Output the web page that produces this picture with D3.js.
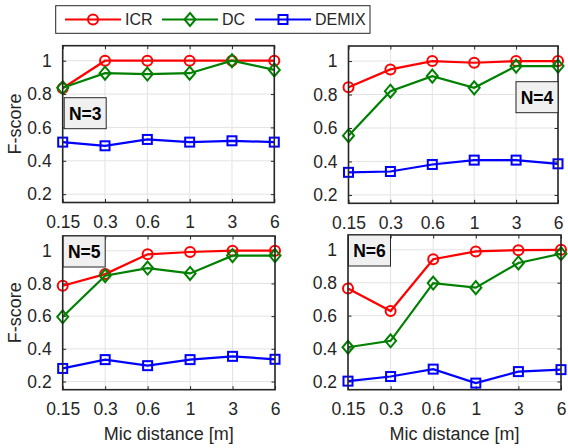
<!DOCTYPE html>
<html>
<head>
<meta charset="utf-8">
<script src="https://cdn.jsdelivr.net/npm/d3@7"></script>
<style>
  body { margin: 0; background: #fff; }
  text { font-family: "Liberation Sans", Arial, sans-serif; fill: #262626; }
</style>
</head>
<body>
<div id="svg"></div>
<script>

// data
var dist_labels = ["0.15", "0.3", "0.6", "1", "3", "6"];
var panel_names = ["N=3", "N=4", "N=5", "N=6"];
var series_names = ["ICR", "DC", "DEMIX"];
var y_ticks = [0.2, 0.4, 0.6, 0.8, 1];

var icr = [
    [0.835, 1.0, 1.0, 1.0, 1.0, 1.0],
    [0.844, 0.95, 1.0, 0.99, 1.0, 1.0],
    [0.786, 0.857, 0.978, 0.992, 1.0, 1.0],
    [0.765, 0.628, 0.943, 0.99, 0.998, 1.0]
];
var dc = [
    [0.838, 0.925, 0.92, 0.925, 1.0, 0.945],
    [0.554, 0.82, 0.91, 0.84, 0.97, 0.97],
    [0.596, 0.847, 0.894, 0.861, 0.97, 0.97],
    [0.408, 0.447, 0.798, 0.77, 0.92, 0.976]
];
var demix = [
    [0.512, 0.49, 0.528, 0.512, 0.52, 0.512],
    [0.335, 0.34, 0.382, 0.408, 0.408, 0.386],
    [0.28, 0.334, 0.297, 0.334, 0.354, 0.336],
    [0.202, 0.23, 0.275, 0.19, 0.26, 0.272]
];

// layout
var width = 568, height = 448;
var colors = ["#ff0000", "#008000", "#0000ff"];
var marker_kind = ["circle", "diamond", "square"];
var y_dom = [0.15, 1.09];

var boxes = [
    {x0: 62.7, x1: 274.3, y0: 45.7, y1: 202.5, lab: "left-mid", ylab: true,  xlab: false},
    {x0: 348.5, x1: 558, y0: 46, y1: 203.3, lab: "right-mid", ylab: false, xlab: false},
    {x0: 62.7, x1: 275, y0: 236, y1: 389.7, lab: "top-left", ylab: true,  xlab: true},
    {x0: 348, x1: 561, y0: 235, y1: 389.7, lab: "top-left", ylab: false, xlab: true}
];

var svg_cont = d3.select("#svg").append("svg")
    .attr("width", width)
    .attr("height", height);

for (var p = 0; p < 4; p++) {
    draw_panel(p);
}
draw_legend();


function marker(g, kind, x, y, col) {
    if (kind == "circle") {
	g.append("circle")
	    .attr("cx", x).attr("cy", y).attr("r", 5)
	    .attr("fill", "none").attr("stroke", col).attr("stroke-width", 2);
    } else if (kind == "diamond") {
	g.append("path")
	    .attr("d", "M" + x + "," + (y - 6.5) + "L" + (x + 5.5) + "," + y
		  + "L" + x + "," + (y + 6.5) + "L" + (x - 5.5) + "," + y + "Z")
	    .attr("fill", "none").attr("stroke", col).attr("stroke-width", 2);
    } else {
	g.append("rect")
	    .attr("x", x - 4.5).attr("y", y - 4.5)
	    .attr("width", 9).attr("height", 9)
	    .attr("fill", "none").attr("stroke", col).attr("stroke-width", 2);
    }
}


function draw_panel(p) {
    var b = boxes[p];
    var xs = d3.scalePoint().domain(dist_labels).range([b.x0, b.x1]).padding(0);
    var ys = d3.scaleLinear().domain(y_dom).range([b.y1, b.y0]);
    var g = svg_cont.append("g").attr("id", "panel" + p);

    // grid
    g.append("g").selectAll("line.gx").data(dist_labels).enter()
	.append("line")
	.attr("x1", function(d) { return xs(d); })
	.attr("x2", function(d) { return xs(d); })
	.attr("y1", b.y0).attr("y2", b.y1)
	.attr("stroke", "#e3e3e3").attr("stroke-width", 1);
    g.append("g").selectAll("line.gy").data(y_ticks).enter()
	.append("line")
	.attr("x1", b.x0).attr("x2", b.x1)
	.attr("y1", function(d) { return ys(d); })
	.attr("y2", function(d) { return ys(d); })
	.attr("stroke", "#e3e3e3").attr("stroke-width", 1);

    // axes with inner ticks, all four sides
    var ax_b = g.append("g").attr("transform", "translate(0," + b.y1 + ")")
	.call(d3.axisBottom(xs).tickSize(-3.5).tickPadding(13));
    var ax_t = g.append("g").attr("transform", "translate(0," + b.y0 + ")")
	.call(d3.axisTop(xs).tickSize(-3.5).tickFormat(""));
    var ax_l = g.append("g").attr("transform", "translate(" + b.x0 + ",0)")
	.call(d3.axisLeft(ys).tickValues(y_ticks).tickSize(-3.5).tickPadding(11)
	      .tickFormat(d3.format("~g")));
    var ax_r = g.append("g").attr("transform", "translate(" + b.x1 + ",0)")
	.call(d3.axisRight(ys).tickValues(y_ticks).tickSize(-3.5).tickFormat(""));

    [ax_b, ax_t, ax_l, ax_r].forEach(function(a) {
	a.select(".domain").remove();
	a.selectAll(".tick line").attr("stroke", "#262626").attr("stroke-width", 1);
	a.selectAll(".tick text")
	    .attr("font-family", "Liberation Sans, Arial, sans-serif")
	    .attr("font-size", "17.5px").attr("fill", "#262626");
    });
    ax_b.selectAll(".tick text").attr("dy", "0.71em");

    // series
    var all = [icr[p], dc[p], demix[p]];
    var line = d3.line()
	.x(function(d, i) { return xs(dist_labels[i]); })
	.y(function(d) { return ys(d); });
    for (var s = 0; s < 3; s++) {
	g.append("path")
	    .attr("d", line(all[s]))
	    .attr("fill", "none")
	    .attr("stroke", colors[s])
	    .attr("stroke-width", 2.2);
	for (var i = 0; i < all[s].length; i++) {
	    marker(g, marker_kind[s], xs(dist_labels[i]), ys(all[s][i]), colors[s]);
	}
    }

    // box
    g.append("rect")
	.attr("x", b.x0).attr("y", b.y0)
	.attr("width", b.x1 - b.x0).attr("height", b.y1 - b.y0)
	.attr("fill", "none").attr("stroke", "#262626").attr("stroke-width", 1.6);

    // N= label
    var bw = 42, bh = 31, lx, ly;
    if (b.lab == "left-mid") { lx = b.x0 + 1.5; ly = 97.7; }
    else if (b.lab == "right-mid") { lx = b.x1 - bw; ly = 81.7; }
    else { lx = b.x0 + 0.5; ly = b.y0; }
    g.append("rect")
	.attr("x", lx).attr("y", ly).attr("width", bw).attr("height", bh)
	.attr("fill", "#f0f0f0").attr("stroke", "#262626").attr("stroke-width", 1);
    g.append("text")
	.attr("x", lx + bw / 2).attr("y", ly + bh / 2)
	.attr("dy", "0.36em")
	.attr("text-anchor", "middle")
	.attr("font-size", "17.5px").attr("font-weight", "bold")
	.style("fill", "#000")
	.text(panel_names[p]);

    if (b.ylab) {
	g.append("text")
	    .attr("transform", "translate(21," + ((b.y0 + b.y1) / 2) + ") rotate(-90)")
	    .attr("text-anchor", "middle")
	    .attr("font-size", "18px")
	    .text("F-score");
    }
    if (b.xlab) {
	g.append("text")
	    .attr("x", (b.x0 + b.x1) / 2).attr("y", 440)
	    .attr("text-anchor", "middle")
	    .attr("font-size", "18px")
	    .text("Mic distance [m]");
    }
}


function draw_legend() {
    var lg = svg_cont.append("g").attr("id", "legend");
    lg.append("rect")
	.attr("x", 55.7).attr("y", 5.7).attr("width", 314.3).attr("height", 27.6)
	.attr("fill", "#fff").attr("stroke", "#262626").attr("stroke-width", 1);
    var starts = [65, 162, 255];
    for (var s = 0; s < 3; s++) {
	var x0 = starts[s];
	lg.append("line")
	    .attr("x1", x0).attr("x2", x0 + 56)
	    .attr("y1", 19.5).attr("y2", 19.5)
	    .attr("stroke", colors[s]).attr("stroke-width", 2.2);
	marker(lg, marker_kind[s], x0 + 28, 19.5, colors[s]);
	lg.append("text")
	    .attr("x", x0 + 60).attr("y", 19.5)
	    .attr("dy", "0.36em")
	    .attr("font-size", "16px")
	    .text(series_names[s]);
    }
}
</script>
</body>
</html>
